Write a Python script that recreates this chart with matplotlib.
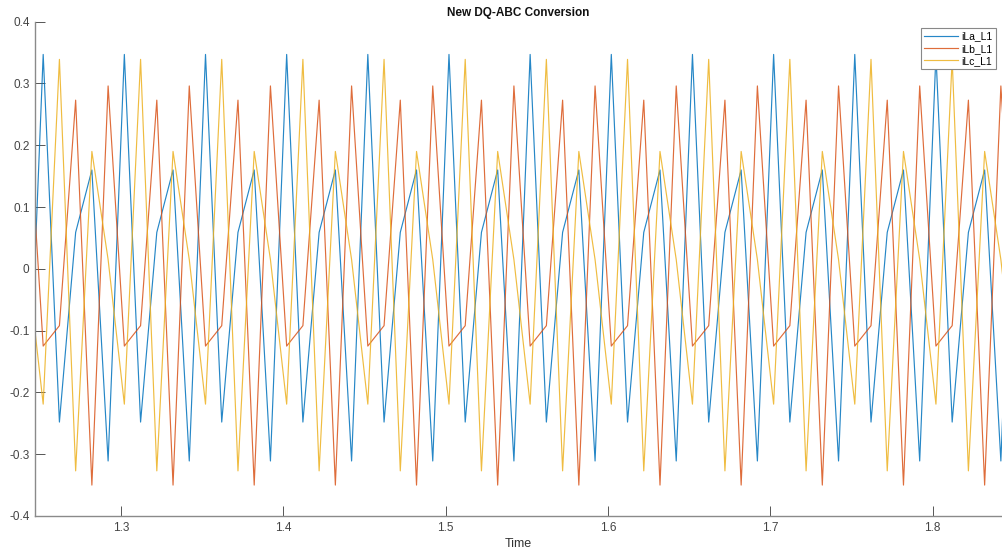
import numpy as np
import matplotlib
matplotlib.use("Agg")
import matplotlib.pyplot as plt

plt.rcParams["font.family"] = ["Liberation Sans", "DejaVu Sans"]

# sample times (s), step 0.01
time = np.round(1.242 + 0.01 * np.arange(62), 3)

# values, one line per 0.05 s period
iLa_L1 = [
    -0.311, 0.347, -0.248, 0.059, 0.160,
    -0.311, 0.347, -0.248, 0.059, 0.160,
    -0.311, 0.347, -0.248, 0.059, 0.160,
    -0.311, 0.347, -0.248, 0.059, 0.160,
    -0.311, 0.347, -0.248, 0.059, 0.160,
    -0.311, 0.347, -0.248, 0.059, 0.160,
    -0.311, 0.347, -0.248, 0.059, 0.160,
    -0.311, 0.347, -0.248, 0.059, 0.160,
    -0.311, 0.347, -0.248, 0.059, 0.160,
    -0.311, 0.347, -0.248, 0.059, 0.160,
    -0.311, 0.347, -0.248, 0.059, 0.160,
    -0.311, 0.347, -0.248, 0.059, 0.160,
    -0.311, 0.347,
]
iLb_L1 = [
    0.296, -0.125, -0.092, 0.273, -0.350,
    0.296, -0.125, -0.092, 0.273, -0.350,
    0.296, -0.125, -0.092, 0.273, -0.350,
    0.296, -0.125, -0.092, 0.273, -0.350,
    0.296, -0.125, -0.092, 0.273, -0.350,
    0.296, -0.125, -0.092, 0.273, -0.350,
    0.296, -0.125, -0.092, 0.273, -0.350,
    0.296, -0.125, -0.092, 0.273, -0.350,
    0.296, -0.125, -0.092, 0.273, -0.350,
    0.296, -0.125, -0.092, 0.273, -0.350,
    0.296, -0.125, -0.092, 0.273, -0.350,
    0.296, -0.125, -0.092, 0.273, -0.350,
    0.296, -0.125,
]
iLc_L1 = [
    0.015, -0.219, 0.339, -0.327, 0.190,
    0.015, -0.219, 0.339, -0.327, 0.190,
    0.015, -0.219, 0.339, -0.327, 0.190,
    0.015, -0.219, 0.339, -0.327, 0.190,
    0.015, -0.219, 0.339, -0.327, 0.190,
    0.015, -0.219, 0.339, -0.327, 0.190,
    0.015, -0.219, 0.339, -0.327, 0.190,
    0.015, -0.219, 0.339, -0.327, 0.190,
    0.015, -0.219, 0.339, -0.327, 0.190,
    0.015, -0.219, 0.339, -0.327, 0.190,
    0.015, -0.219, 0.339, -0.327, 0.190,
    0.015, -0.219, 0.339, -0.327, 0.190,
    0.015, -0.219,
]

series_names = ["iLa_L1", "iLb_L1", "iLc_L1"]
x_ticks = [1.3, 1.4, 1.5, 1.6, 1.7, 1.8]
y_ticks = [-0.4, -0.3, -0.2, -0.1, 0, 0.1, 0.2, 0.3, 0.4]

colors = ["#0072BD", "#D95319", "#EDB120"]

fig = plt.figure(figsize=(10.02, 5.56), dpi=100)
ax = fig.add_axes([0.035, 0.072, 0.965, 0.889])

for vals, name, c in zip([iLa_L1, iLb_L1, iLc_L1], series_names, colors):
    ax.plot(time, vals, color=c, lw=0.85, alpha=0.85, label=name)

ax.set_xlim(1.247, 1.8427)
ax.set_ylim(-0.4, 0.4)
ax.set_xticks(x_ticks)
ax.set_xticklabels([f"{v:g}" for v in x_ticks])
ax.set_yticks(y_ticks)
ax.set_yticklabels([f"{v:g}" for v in y_ticks])

for s in ["top", "right"]:
    ax.spines[s].set_visible(False)
for s in ["left", "bottom"]:
    ax.spines[s].set_color("#8a8a8a")
    ax.spines[s].set_linewidth(1.0)
ax.tick_params(direction="in", length=7, width=0.7, color="#555555",
               labelsize=8.5, labelcolor="#444444")
ax.tick_params(axis="x", pad=4)
ax.tick_params(axis="y", pad=4)

ax.set_title("New DQ-ABC Conversion", fontsize=8.5, fontweight="bold", color="#111111", pad=4)
ax.set_xlabel("Time", fontsize=9, color="#333333", labelpad=3)

leg = ax.legend(loc="upper right", fontsize=7.5, handlelength=3.2, handletextpad=0.3,
                labelspacing=0.2, borderpad=0.35, borderaxespad=0.6, fancybox=False,
                framealpha=1)
leg.get_frame().set_edgecolor("#888888")
leg.get_frame().set_linewidth(0.8)

fig.savefig("out.png", dpi=100)
